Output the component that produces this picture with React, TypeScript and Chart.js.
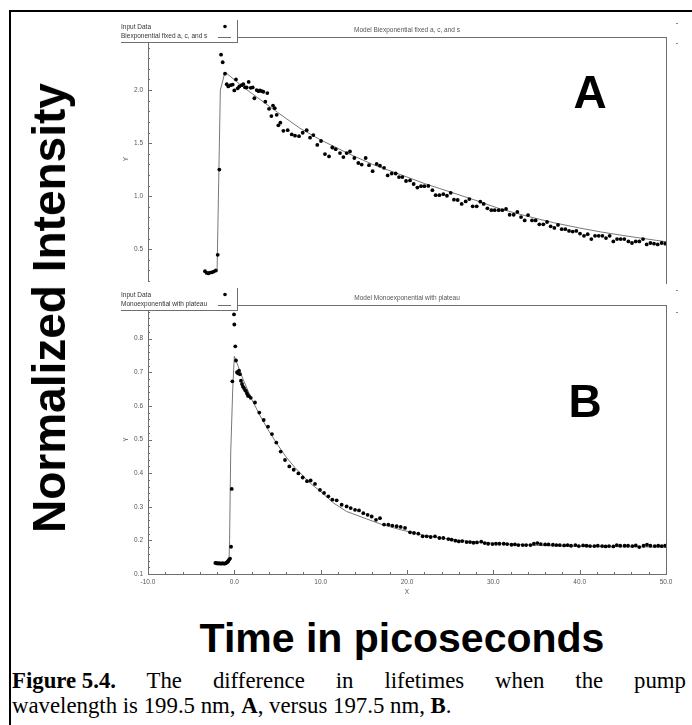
import React, { useEffect, useRef } from 'react';
import { Chart, registerables } from 'chart.js';

Chart.register(...registerables);

type Pt = [number, number];

// ---------- tick labels ----------
const xTickLabels: number[] = [-10, 0, 10, 20, 30, 40, 50];
const aYTickLabels: number[] = [0.5, 1.0, 1.5, 2.0];
const bYTickLabels: number[] = [0.1, 0.2, 0.3, 0.4, 0.5, 0.6, 0.7, 0.8];

// ---------- panel A (Biexponential) ----------
const aInput: Pt[] = [
  [-3.4, 0.293], [-3.2, 0.277], [-3.0, 0.274], [-2.8, 0.28], [-2.6, 0.283], [-2.4, 0.29], [-2.15, 0.30],
  [-1.93, 0.448], [-1.74, 1.251], [-1.54, 2.333], [-1.35, 2.262], [-1.08, 2.154], [-0.88, 2.055],
  [-0.70, 2.034], [-0.42, 2.046], [-0.19, 2.052], [0.0, 1.997], [0.19, 2.10], [0.39, 2.016],
  [0.58, 2.034], [0.85, 2.046], [1.04, 2.055], [1.24, 2.025], [1.43, 2.025], [1.66, 2.077],
  [1.90, 2.021], [2.13, 2.025], [2.32, 1.923], [2.59, 2.0], [2.79, 1.99], [2.97, 1.997],
  [3.17, 1.99], [3.36, 1.984], [3.59, 1.891], [3.82, 1.972], [4.02, 1.823], [4.29, 1.755],
  [4.48, 1.854], [4.68, 1.829], [4.91, 1.767], [5.10, 1.668], [5.33, 1.693], [5.68, 1.616],
  [6.18, 1.622], [6.65, 1.582], [7.03, 1.570], [7.49, 1.566],
  [7.92, 1.598], [8.38, 1.622], [8.77, 1.551], [9.15, 1.576], [9.61, 1.483], [10.04, 1.520],
  [10.50, 1.397], [10.97, 1.375], [11.35, 1.459], [11.74, 1.443], [12.24, 1.406], [12.63, 1.369],
  [13.01, 1.406], [13.40, 1.421], [13.90, 1.360], [14.36, 1.313], [14.75, 1.298], [15.21, 1.360],
  [15.60, 1.292], [16.02, 1.236], [16.49, 1.304], [16.87, 1.288], [17.34, 1.267], [17.76, 1.196],
  [18.23, 1.214], [18.69, 1.214], [19.07, 1.180], [19.46, 1.180], [19.89, 1.143], [20.35, 1.149],
  [20.77, 1.115], [21.20, 1.081], [21.62, 1.094], [22.01, 1.094], [22.47, 1.097], [22.94, 1.057],
  [23.32, 1.010], [23.75, 1.010], [24.21, 1.019], [24.63, 1.004], [25.06, 1.032], [25.44, 0.967],
  [25.87, 0.964], [26.33, 0.927], [26.80, 0.951], [27.22, 0.973], [27.61, 0.905], [28.07, 0.905],
  [28.49, 0.948], [28.88, 0.927], [29.31, 0.886], [29.77, 0.868], [30.16, 0.868], [30.62, 0.868],
  [31.04, 0.868], [31.47, 0.880], [31.89, 0.825], [32.36, 0.825], [32.78, 0.852], [33.21, 0.803],
  [33.63, 0.772], [34.02, 0.822], [34.48, 0.772], [34.90, 0.772], [35.33, 0.735], [35.79, 0.735],
  [36.22, 0.757], [36.64, 0.716], [37.07, 0.701], [37.49, 0.729], [37.92, 0.689], [38.34, 0.689],
  [38.77, 0.673], [39.19, 0.667], [39.61, 0.673], [40.04, 0.648], [40.50, 0.627], [40.93, 0.642],
  [41.35, 0.596], [41.78, 0.627], [42.20, 0.627], [42.63, 0.627], [43.05, 0.605], [43.48, 0.627],
  [43.90, 0.574], [44.33, 0.596], [44.75, 0.596], [45.17, 0.596], [45.64, 0.574], [46.06, 0.559],
  [46.49, 0.574], [46.91, 0.574], [47.34, 0.596], [47.76, 0.546], [48.19, 0.559], [48.61, 0.553],
  [49.04, 0.546], [49.50, 0.559], [49.92, 0.553],
];
const aModel: Pt[] = [
  [-3.4, 0.28], [-2.0, 0.29], [-1.62, 2.0], [-1.08, 2.17], [1, 2.03], [3, 1.91], [5, 1.79],
  [7.6, 1.64], [10, 1.53], [13, 1.41], [16, 1.30], [19.2, 1.205], [22, 1.12], [25, 1.04],
  [28, 0.96], [30.8, 0.88], [34, 0.81], [37, 0.75], [40, 0.70], [42.4, 0.664], [45, 0.63],
  [47.5, 0.60], [50, 0.571],
];

// ---------- panel B (Monoexponential with plateau) ----------
const bInput: Pt[] = [
  [-2.2, 0.133], [-2.08, 0.132], [-1.96, 0.132], [-1.84, 0.131], [-1.72, 0.132], [-1.6, 0.131],
  [-1.48, 0.131], [-1.36, 0.132], [-1.24, 0.131], [-1.12, 0.131], [-1.0, 0.132], [-0.9, 0.134],
  [-0.8, 0.136], [-0.7, 0.139], [-0.6, 0.143], [-0.5, 0.146], [-0.38, 0.181], [-0.30, 0.353],
  [-0.23, 0.673], [-0.04, 0.872], [0.0, 0.842], [0.11, 0.777], [0.19, 0.735], [0.31, 0.70],
  [0.42, 0.697], [0.54, 0.705], [0.65, 0.694], [0.77, 0.675], [0.89, 0.665], [1.0, 0.657],
  [1.12, 0.653], [1.24, 0.647], [1.35, 0.644], [1.47, 0.637], [1.58, 0.630], [1.70, 0.629],
  [1.90, 0.624], [2.39, 0.61], [2.89, 0.58], [3.40, 0.558], [3.90, 0.538], [4.36, 0.516],
  [4.86, 0.491], [5.37, 0.464], [5.87, 0.439], [6.37, 0.42], [6.88, 0.41], [7.42, 0.399],
  [7.92, 0.387], [8.42, 0.376], [8.84, 0.378], [9.34, 0.368], [9.92, 0.350], [10.39, 0.341],
  [10.89, 0.331], [11.35, 0.321], [11.85, 0.319], [12.43, 0.306], [13.01, 0.301], [13.48, 0.296],
  [13.98, 0.291], [14.44, 0.289], [14.94, 0.281], [15.44, 0.276], [15.91, 0.271], [16.41, 0.261],
  [16.87, 0.266], [17.34, 0.247], [17.84, 0.247], [18.30, 0.244], [18.80, 0.242], [19.27, 0.240],
  [19.77, 0.237], [20.35, 0.224], [20.81, 0.222], [21.31, 0.220], [21.81, 0.212], [22.28, 0.212],
  [22.74, 0.210], [23.24, 0.212], [23.75, 0.207], [24.21, 0.207], [24.79, 0.204], [25.17, 0.202],
  [25.6, 0.199], [26.0, 0.197], [26.4, 0.198], [26.9, 0.195], [27.3, 0.195], [27.7, 0.193],
  [28.1, 0.194], [28.6, 0.196], [29.0, 0.192], [29.4, 0.190], [29.9, 0.189], [30.3, 0.190],
  [30.7, 0.190], [31.2, 0.190], [31.6, 0.189], [32.1, 0.187], [32.5, 0.188], [32.9, 0.186],
  [33.4, 0.186], [33.8, 0.186], [34.3, 0.186], [34.7, 0.190], [35.1, 0.192], [35.5, 0.189],
  [36.0, 0.188], [36.4, 0.188], [36.9, 0.187], [37.3, 0.186], [37.7, 0.186], [38.2, 0.185],
  [38.6, 0.186], [39.0, 0.184], [39.5, 0.186], [39.9, 0.183], [40.4, 0.185], [40.8, 0.184],
  [41.2, 0.183], [41.7, 0.183], [42.1, 0.184], [42.6, 0.183], [43.0, 0.182], [43.4, 0.183],
  [43.9, 0.182], [44.3, 0.186], [44.7, 0.184], [45.2, 0.184], [45.6, 0.184], [46.1, 0.183],
  [46.5, 0.185], [46.9, 0.180], [47.4, 0.184], [47.8, 0.187], [48.2, 0.184], [48.7, 0.183],
  [49.1, 0.184], [49.5, 0.183], [49.9, 0.184],
];
const bModel: Pt[] = [
  [-2.2, 0.132], [-0.62, 0.133], [-0.55, 0.2], [-0.42, 0.46], [-0.19, 0.647], [0, 0.748],
  [1, 0.68], [2, 0.62], [3, 0.57], [4, 0.525], [5, 0.485], [6, 0.448], [7, 0.417], [8.8, 0.37],
  [10, 0.345], [11.5, 0.311], [13, 0.286], [15.3, 0.264], [17, 0.248], [19.2, 0.232], [22, 0.215],
  [25, 0.203], [28, 0.195], [31, 0.19], [35, 0.185], [40, 0.182], [45, 0.181], [50, 0.18],
];

const FONT = "'Liberation Sans', Arial, Helvetica, sans-serif";
const AXIS_COLOR = '#6e6e6e';
const TEXT_COLOR = '#555555';

interface PanelProps {
  top: number;
  height: number;
  padTop: number;
  padBottom: number;
  yMin: number;
  yMax: number;
  yStep: number;
  yLabels: number[];
  showX: boolean;
  title: string;
  modelLabel: string;
  input: Pt[];
  model: Pt[];
  rightExtra: number;
}

const near = (v: number, list: number[]) => list.some((t) => Math.abs(t - v) < 1e-6);

function Panel(p: PanelProps) {
  const ref = useRef<HTMLCanvasElement | null>(null);
  useEffect(() => {
    if (!ref.current) return;
    const px = (v: number) => Math.round(v) + 0.5;
    const decor = {
      id: 'decor',
      afterDraw(chart: any) {
        const { ctx, chartArea: a, scales } = chart;
        const xs = scales.x;
        const ys = scales.y;
        ctx.save();
        ctx.strokeStyle = AXIS_COLOR;
        ctx.lineWidth = 1;
        // frame lines
        ctx.beginPath();
        ctx.moveTo(px(a.left), a.top);
        ctx.lineTo(px(a.left), a.bottom);
        ctx.moveTo(a.left, px(a.top));
        ctx.lineTo(a.right, px(a.top));
        ctx.moveTo(px(a.right), a.top);
        ctx.lineTo(px(a.right), a.bottom + p.rightExtra);
        if (p.showX) {
          ctx.moveTo(a.left, px(a.bottom));
          ctx.lineTo(a.right + 1, px(a.bottom));
        }
        // inward ticks
        ys.ticks.forEach((t: any) => {
          const yy = px(ys.getPixelForValue(t.value));
          const len = near(t.value, p.yLabels) ? 4 : 2;
          ctx.moveTo(a.left, yy);
          ctx.lineTo(a.left + len, yy);
        });
        if (p.showX) {
          xs.ticks.forEach((t: any) => {
            const xx = px(xs.getPixelForValue(t.value));
            const len = near(t.value, xTickLabels) ? 4 : 2;
            ctx.moveTo(xx, a.bottom);
            ctx.lineTo(xx, a.bottom - len);
          });
        }
        ctx.stroke();

        // title
        ctx.fillStyle = TEXT_COLOR;
        ctx.font = `6.5px ${FONT}`;
        ctx.textAlign = 'center';
        ctx.textBaseline = 'middle';
        ctx.fillText(p.title, (a.left + a.right) / 2, a.top - 6.5);

        // legend box
        const lx = 121;
        const rx = a.left + 89;
        const bottom = a.top + 5;
        const top = bottom - 22;
        ctx.fillStyle = '#ffffff';
        ctx.fillRect(lx - 2, top, rx - lx + 2, bottom - top);
        ctx.beginPath();
        ctx.moveTo(lx, px(bottom));
        ctx.lineTo(rx + 1, px(bottom));
        ctx.moveTo(px(rx), top);
        ctx.lineTo(px(rx), bottom);
        ctx.stroke();
        const ds = chart.data.datasets;
        ctx.fillStyle = '#333333';
        ctx.textAlign = 'left';
        ctx.fillText(ds[0].label, lx, bottom - 14.5);
        ctx.fillText(ds[1].label, lx, bottom - 6);
        ctx.fillStyle = '#000000';
        ctx.beginPath();
        ctx.arc(rx - 12, bottom - 15.5, 1.8, 0, Math.PI * 2);
        ctx.fill();
        ctx.beginPath();
        ctx.moveTo(rx - 19, px(bottom - 5.5));
        ctx.lineTo(rx - 6, px(bottom - 5.5));
        ctx.stroke();
        ctx.restore();
      },
    };

    const chart = new Chart(ref.current, {
      type: 'scatter',
      data: {
        datasets: [
          {
            label: 'Input Data',
            data: p.input.map(([x, y]) => ({ x, y })),
            showLine: false,
            pointRadius: 1.9,
            pointBorderWidth: 0,
            pointBackgroundColor: '#000000',
            backgroundColor: '#000000',
          },
          {
            label: p.modelLabel,
            data: p.model.map(([x, y]) => ({ x, y })),
            showLine: true,
            pointRadius: 0,
            borderColor: '#777777',
            borderWidth: 1,
            tension: 0,
          },
        ],
      },
      options: {
        animation: false,
        responsive: false,
        devicePixelRatio: 1,
        events: [],
        layout: { padding: { left: 118, right: 26, top: p.padTop, bottom: p.padBottom } },
        plugins: {
          legend: { display: false },
          tooltip: { enabled: false },
          title: { display: false },
        },
        scales: {
          x: {
            type: 'linear',
            min: -10,
            max: 50,
            display: p.showX,
            grid: { display: false, drawTicks: false, tickLength: 0 },
            border: { display: false },
            ticks: {
              stepSize: 2,
              autoSkip: false,
              maxRotation: 0,
              padding: 4,
              color: TEXT_COLOR,
              font: { size: 6.5, family: FONT },
              callback: (v: any) => (near(Number(v), xTickLabels) ? Number(v).toFixed(1) : ''),
            },
            title: {
              display: true,
              text: 'X',
              color: TEXT_COLOR,
              font: { size: 6.5, family: FONT },
              padding: { top: 0, bottom: 4 },
            },
            afterFit: (s: any) => {
              s.height = p.showX ? 26 : 0;
            },
          },
          y: {
            type: 'linear',
            min: p.yMin,
            max: p.yMax,
            grid: { display: false, drawTicks: false, tickLength: 0 },
            border: { display: false },
            ticks: {
              stepSize: p.yStep,
              autoSkip: false,
              padding: 5,
              color: TEXT_COLOR,
              font: { size: 6.5, family: FONT },
              callback: (v: any) => (near(Number(v), p.yLabels) ? Number(v).toFixed(1) : ''),
            },
            title: {
              display: true,
              text: 'Y',
              color: TEXT_COLOR,
              font: { size: 6.5, family: FONT },
              padding: { top: 4, bottom: 0 },
            },
            afterFit: (s: any) => {
              s.width = 30;
            },
          },
        },
      },
      plugins: [decor],
    } as any);
    return () => chart.destroy();
  }, []);
  return (
    <canvas
      ref={ref}
      width={692}
      height={p.height}
      style={{ position: 'absolute', left: 0, top: p.top, width: 692, height: p.height }}
    />
  );
}

const abs = (s: React.CSSProperties): React.CSSProperties => ({ position: 'absolute', ...s });

export default function App() {
  return (
    <div
      style={abs({
        left: 0,
        top: 0,
        width: 692,
        height: 725,
        overflow: 'hidden',
        background: '#ffffff',
      })}
    >
      <div
        style={abs({
          left: 9,
          top: 10,
          width: 683,
          height: 715,
          borderLeft: '2px solid #000',
          borderTop: '2px solid #000',
          boxSizing: 'border-box',
        })}
      />
      <Panel
        top={0}
        height={290}
        padTop={37}
        padBottom={5}
        yMin={0.2}
        yMax={2.5}
        yStep={0.1}
        yLabels={aYTickLabels}
        showX={false}
        title="Model Biexponential fixed a, c, and s"
        modelLabel="Biexponential fixed a, c, and s"
        input={aInput}
        model={aModel}
        rightExtra={3}
      />
      <Panel
        top={285}
        height={315}
        padTop={20}
        padBottom={0}
        yMin={0.1}
        yMax={0.9}
        yStep={0.02}
        yLabels={bYTickLabels}
        showX={true}
        title="Model Monoexponential with plateau"
        modelLabel="Monoexponential with plateau"
        input={bInput}
        model={bModel}
        rightExtra={0}
      />
      {[23, 43, 290, 312].map((y) => (
        <div key={y} style={abs({ left: 676, top: y, width: 2, height: 1, background: '#888' })} />
      ))}
      <div
        style={abs({
          left: 590,
          top: 69,
          transform: 'translateX(-50%)',
          font: `bold 46px ${FONT}`,
          lineHeight: '46px',
          color: '#000',
        })}
      >
        A
      </div>
      <div
        style={abs({
          left: 585,
          top: 378,
          transform: 'translateX(-50%)',
          font: `bold 46px ${FONT}`,
          lineHeight: '46px',
          color: '#000',
        })}
      >
        B
      </div>
      <div
        style={abs({
          left: 49,
          top: 307.5,
          transform: 'translate(-50%, -50%) rotate(-90deg)',
          font: `bold 46px ${FONT}`,
          lineHeight: '46px',
          whiteSpace: 'nowrap',
          color: '#000',
        })}
      >
        Normalized Intensity
      </div>
      <div
        style={abs({
          left: 402,
          top: 617,
          transform: 'translateX(-50%)',
          font: `bold 41px ${FONT}`,
          lineHeight: '42px',
          whiteSpace: 'nowrap',
          color: '#000',
        })}
      >
        Time in picoseconds
      </div>
      <div
        style={abs({
          left: 12,
          top: 668,
          width: 674,
          font: "22.8px 'Liberation Serif', 'Times New Roman', serif",
          lineHeight: '25px',
          textAlign: 'justify',
          textAlignLast: 'justify',
          whiteSpace: 'nowrap',
          color: '#000',
        })}
      >
        <b style={{ display: 'inline-block' }}>Figure&nbsp;5.4.</b> The difference in lifetimes when the pump
      </div>
      <div
        style={abs({
          left: 12,
          top: 693,
          font: "22.8px 'Liberation Serif', 'Times New Roman', serif",
          lineHeight: '25px',
          whiteSpace: 'nowrap',
          color: '#000',
        })}
      >
        wavelength is 199.5 nm, <b>A</b>, versus 197.5 nm, <b>B</b>.
      </div>
    </div>
  );
}
